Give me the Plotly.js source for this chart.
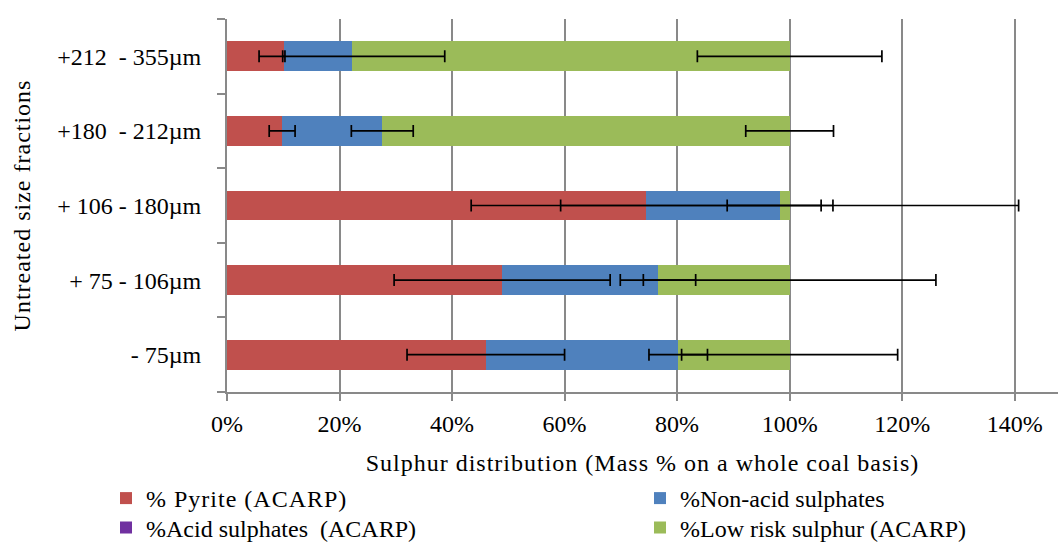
<!DOCTYPE html>
<html>
<head>
<meta charset="utf-8">
<script src="https://cdn.plot.ly/plotly-3.0.1.min.js"></script>
<style>
  html, body { margin: 0; padding: 0; background: #ffffff; }
  #chart { width: 1058px; height: 547px; }
  /* slightly looser tracking for titles and key entries */
  #chart .xtitle, #chart .ytitle, #chart .legendtext { letter-spacing: 1px; }
  /* the wider key text must not be trimmed by the key's scroll clip */
  #chart .legend .scrollbox { clip-path: none !important; }
</style>
</head>
<body>
<div id="chart"></div>
<script>
// Size fractions, bottom to top
const sizeFractions = ['- 75µm', '+ 75 - 106µm', '+ 106 - 180µm', '+180\u00a0 - 212µm', '+212\u00a0 - 355µm'];

// Sulphur forms, % of total sulphur
const pyrite           = [46.0, 48.9, 74.5,  9.8, 10.1];
const nonAcidSulphates = [34.2, 27.7, 23.8, 17.8, 12.1];
const acidSulphates    = [ 0.0,  0.0,  0.0,  0.0,  0.0];
const lowRiskSulphur   = [19.8, 23.4,  1.7, 72.4, 77.8];

// Error (+/-) for each form
const pyriteErr  = [14.0, 19.2, 31.1, 2.3,  0.2];
const nonAcidErr = [ 5.2,  6.7,  9.4, 5.5, 16.5];
const lowRiskErr = [19.2, 26.0, 40.7, 7.8, 16.4];

const seriesNames = ['% Pyrite (ACARP)', '%Non-acid sulphates', '%Acid sulphates  (ACARP)', '%Low risk sulphur (ACARP)'];
const seriesColors = ['#C0504D', '#4F81BD', '#7030A0', '#9BBB59'];
const seriesValues = [pyrite, nonAcidSulphates, acidSulphates, lowRiskSulphur];
// each series gets its own legend box so the 2x2 key can be laid out freely
const seriesLegends = ['legend', 'legend2', 'legend3', 'legend4'];

const FONT = 'Liberation Serif, Times New Roman, serif';

const traces = seriesValues.map((vals, i) => ({
  type: 'bar',
  orientation: 'h',
  name: seriesNames[i],
  legend: seriesLegends[i],
  x: vals,
  y: sizeFractions,
  marker: { color: seriesColors[i], line: { width: 0 } },
  hoverinfo: 'x+name'
}));

// Error bars sit at the end of each stacked segment, drawn above all bars
function cumulative(upTo) {
  return sizeFractions.map((_, k) => {
    let s = 0;
    for (let j = 0; j <= upTo; j++) s += seriesValues[j][k];
    return s;
  });
}
const errorSets = [[0, pyriteErr], [1, nonAcidErr], [3, lowRiskErr]];
errorSets.forEach(([idx, err]) => {
  traces.push({
    type: 'scatter',
    mode: 'markers',
    x: cumulative(idx),
    y: sizeFractions,
    marker: { size: 2, opacity: 0 },
    showlegend: false,
    hoverinfo: 'skip',
    error_x: { type: 'data', array: err, visible: true, color: '#000000', thickness: 1.7, width: 6 }
  });
});

const axisGrey = '#898989';

function legendBox(x, y) {
  return {
    orientation: 'v',
    x: x, xanchor: 'left',
    y: y, yanchor: 'top',
    bgcolor: 'rgba(0,0,0,0)',
    borderwidth: 0,
    font: { family: FONT, size: 24, color: '#000000' },
    itemclick: false,
    itemdoubleclick: false
  };
}

const layout = {
  width: 1058,
  height: 547,
  margin: { l: 227, r: 0, t: 19, b: 155, pad: 0, autoexpand: false },
  barmode: 'stack',
  bargap: 0.6,
  paper_bgcolor: '#ffffff',
  plot_bgcolor: '#ffffff',
  font: { family: FONT, size: 24, color: '#000000' },
  showlegend: true,
  xaxis: {
    range: [0, 147.7],
    tick0: 0,
    dtick: 20,
    ticksuffix: '%',
    tickfont: { family: FONT, size: 24, color: '#000000' },
    showgrid: true,
    gridcolor: axisGrey,
    gridwidth: 2,
    zeroline: false,
    showline: true,
    linecolor: axisGrey,
    linewidth: 2,
    ticks: 'outside',
    ticklen: 7,
    tickwidth: 2,
    tickcolor: axisGrey,
    ticklabelstandoff: 2,
    automargin: false,
    fixedrange: true,
    title: { text: 'Sulphur distribution (Mass % on a whole coal basis)', standoff: 18,
             font: { family: FONT, size: 24, color: '#000000' } }
  },
  yaxis: {
    type: 'category',
    tickfont: { family: FONT, size: 24, color: '#000000' },
    showgrid: false,
    zeroline: false,
    showline: true,
    linecolor: axisGrey,
    linewidth: 2,
    ticks: 'outside',
    tickson: 'boundaries',
    ticklen: 8,
    tickwidth: 2,
    tickcolor: axisGrey,
    ticklabelstandoff: 19,
    automargin: false,
    fixedrange: true,
    title: { text: 'Untreated size fractions', standoff: 20,
             font: { family: FONT, size: 24, color: '#000000' } }
  },
  legend:  legendBox(-0.1456, -0.2252),
  legend2: legendBox(0.497,   -0.2252),
  legend3: legendBox(-0.1456, -0.3043),
  legend4: legendBox(0.497,   -0.3043)
};

Plotly.newPlot('chart', traces, layout, { displayModeBar: false, staticPlot: true });
</script>
</body>
</html>
